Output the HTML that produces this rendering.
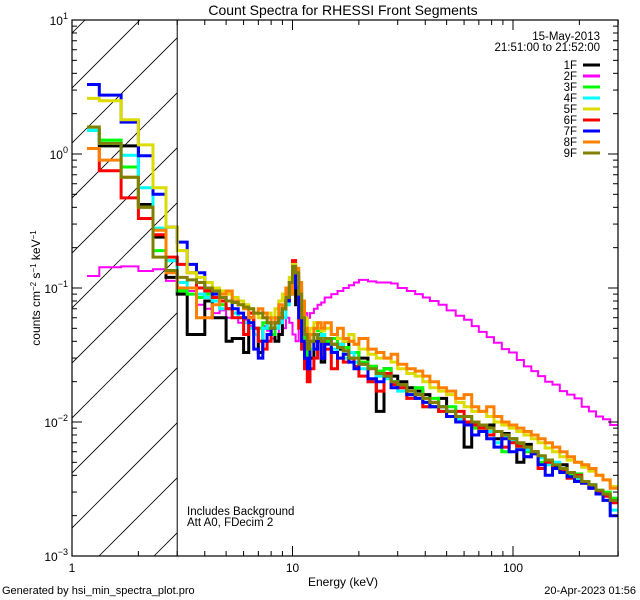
<!DOCTYPE html>
<html><head><meta charset="utf-8"><style>
html,body{margin:0;padding:0;background:#fff;}
svg{display:block;font-family:"Liberation Sans",sans-serif;}
</style></head><body>
<svg id="chart" width="640" height="600" viewBox="0 0 640 600" xmlns="http://www.w3.org/2000/svg">
<rect width="640" height="600" fill="#fff"/>
<defs><clipPath id="plotclip"><rect x="72" y="20" width="546" height="536"/></clipPath>
<clipPath id="hatchclip"><rect x="72" y="20" width="105" height="536"/></clipPath></defs>
<text x="343" y="15" font-size="14" text-anchor="middle">Count Spectra for RHESSI Front Segments</text>
<g id="hatch" clip-path="url(#hatchclip)"></g>
<g id="series" clip-path="url(#plotclip)"></g>
<g id="axes"></g>
<text x="600" y="40" font-size="11.5" text-anchor="end">15-May-2013</text>
<text x="600" y="51" font-size="11.5" text-anchor="end">21:51:00 to 21:52:00</text>
<g id="legend"></g>
<text x="187" y="515" font-size="11.5">Includes Background</text>
<text x="187" y="526" font-size="11.5">Att A0, FDecim 2</text>
<text x="343" y="586" font-size="12" text-anchor="middle">Energy (keV)</text>
<text transform="translate(40,288) rotate(-90)" font-size="12" text-anchor="middle">counts cm<tspan baseline-shift="super" font-size="8">−2</tspan> s<tspan baseline-shift="super" font-size="8">−1</tspan> keV<tspan baseline-shift="super" font-size="8">−1</tspan></text>
<text x="2" y="594" font-size="11">Generated by hsi_min_spectra_plot.pro</text>
<text x="636" y="594" font-size="11" text-anchor="end">20-Apr-2023 01:56</text>
</svg>
<script>
const edges=[1.17,1.33,1.67,2,2.33,2.67,3,3.33,3.67,4,4.33,4.67,5,5.33,5.67,6,6.33,6.67,7,7.33,7.67,8,8.33,8.67,9,9.33,9.67,10,10.33,10.67,11,11.33,11.67,12,12.5,13,13.5,14,15,16,17,18,19,20,22,24,26,28,30,33,36,39,42,46,50,55,60,65,70,76,82,89,96,104,112,121,130,140,151,163,176,190,205,221,238,256,276,300];
const seriesNames=["1F","2F","3F","4F","5F","6F","7F","8F","9F"];
const seriesColors=["#000000","#ff00ff","#00ff00","#00ffff","#dcdc00","#ff0000","#0000ff","#ff8000","#808000"];
const s1F=[1.5,1.15,1.15,0.42,0.24,0.12, 0.09,0.045,0.045,0.08,0.06,0.06,0.04,0.042,0.042,0.033,0.06,0.05,0.033,0.05,0.055,0.055,0.04,0.045,0.07,0.08,0.09,0.12,0.075,0.1,0.045,0.03,0.025, 0.03,0.04,0.045,0.028,0.04,0.038,0.035,0.04,0.03,0.033,0.03,0.026,0.012,0.025,0.022,0.02,0.018,0.017,0.016,0.013,0.015,0.012,0.011,0.0065,0.01,0.009,0.0095,0.0075,0.0082,0.0075,0.005,0.0068,0.006,0.0055,0.0052,0.0046,0.0048,0.0042,0.0038,0.0035,0.0033,0.003,0.0028,0.0026];
const s2F=[0.123,0.143,0.145,0.134,0.138,0.113, 0.1,0.095,0.075,0.07,0.065,0.068,0.06,0.06,0.055,0.058,0.052,0.05,0.05,0.052,0.048,0.042,0.05,0.045,0.05,0.06,0.055,0.045,0.04,0.05,0.06,0.065,0.06, 0.065,0.07,0.075,0.078,0.085,0.09,0.095,0.1,0.105,0.11,0.115,0.112,0.11,0.11,0.108,0.1,0.095,0.09,0.085,0.08,0.075,0.068,0.062,0.058,0.052,0.047,0.043,0.039,0.035,0.033,0.029,0.026,0.024,0.022,0.02,0.019,0.017,0.016,0.015,0.013,0.012,0.011,0.0105,0.0095];
const s3F=[1.5,1.27,0.8,0.4,0.19,0.16, 0.095,0.09,0.085,0.09,0.08,0.075,0.07,0.065,0.06,0.06,0.055,0.045,0.05,0.055,0.05,0.045,0.06,0.065,0.07,0.085,0.1,0.14,0.11,0.08,0.05,0.035,0.03, 0.04,0.05,0.048,0.045,0.04,0.042,0.038,0.036,0.03,0.033,0.028,0.026,0.024,0.025,0.02,0.019,0.016,0.018,0.013,0.015,0.012,0.013,0.011,0.011,0.009,0.0095,0.008,0.0085,0.006,0.0075,0.0068,0.006,0.0058,0.005,0.0052,0.0048,0.0045,0.004,0.0041,0.0036,0.0034,0.0031,0.003,0.0027];
const s4F=[1.5,1.2,0.98,0.56,0.28,0.16, 0.11,0.1,0.09,0.085,0.08,0.07,0.07,0.065,0.06,0.055,0.05,0.045,0.04,0.05,0.055,0.06,0.05,0.055,0.06,0.075,0.09,0.13,0.12,0.06,0.04,0.03,0.028, 0.035,0.045,0.04,0.045,0.042,0.035,0.038,0.03,0.033,0.028,0.025,0.02,0.022,0.021,0.02,0.017,0.016,0.015,0.014,0.013,0.013,0.011,0.0105,0.01,0.0095,0.009,0.0085,0.007,0.0078,0.0072,0.0065,0.0062,0.0058,0.0054,0.0048,0.005,0.0044,0.0042,0.0038,0.0036,0.0034,0.003,0.0026,0.0022];
const s5F=[2.6,2.5,1.8,1.17,0.56,0.285, 0.19,0.13,0.12,0.11,0.1,0.095,0.09,0.085,0.08,0.075,0.07,0.065,0.06,0.06,0.065,0.06,0.07,0.08,0.09,0.1,0.12,0.15,0.14,0.11,0.08,0.06,0.045, 0.05,0.055,0.05,0.048,0.05,0.045,0.042,0.04,0.045,0.038,0.035,0.032,0.03,0.03,0.028,0.025,0.023,0.022,0.02,0.018,0.017,0.016,0.014,0.013,0.012,0.012,0.011,0.01,0.0095,0.009,0.0085,0.008,0.0075,0.007,0.0064,0.006,0.0055,0.0052,0.005,0.0046,0.0043,0.004,0.0037,0.0033];
const s6F=[1.1,0.75,0.47,0.33,0.25,0.17, 0.15,0.13,0.1,0.095,0.085,0.08,0.07,0.06,0.06,0.045,0.065,0.05,0.04,0.035,0.04,0.05,0.055,0.06,0.07,0.08,0.11,0.16,0.12,0.05,0.035,0.025,0.02, 0.025,0.03,0.04,0.03,0.035,0.025,0.03,0.028,0.03,0.026,0.022,0.02,0.017,0.023,0.019,0.018,0.015,0.016,0.013,0.014,0.012,0.011,0.012,0.01,0.0095,0.009,0.008,0.0085,0.0065,0.007,0.0066,0.0055,0.0058,0.0045,0.005,0.0045,0.0043,0.0038,0.004,0.0035,0.0032,0.003,0.0028,0.0025];
const s7F=[3.3,2.75,1.73,0.97,0.5,0.285, 0.22,0.15,0.13,0.1,0.09,0.085,0.08,0.07,0.065,0.06,0.055,0.035,0.03,0.04,0.045,0.05,0.055,0.06,0.07,0.08,0.1,0.13,0.1,0.06,0.04,0.03,0.025, 0.04,0.035,0.04,0.03,0.038,0.033,0.03,0.032,0.028,0.025,0.027,0.021,0.02,0.022,0.018,0.019,0.016,0.015,0.014,0.013,0.013,0.011,0.01,0.0095,0.008,0.0085,0.0075,0.0065,0.0075,0.006,0.0062,0.0055,0.0058,0.0048,0.004,0.0045,0.0042,0.0039,0.0036,0.0035,0.0032,0.0029,0.0026,0.002];
const s8F=[1.1,0.9,0.67,0.4,0.27,0.13, 0.1,0.1,0.06,0.06,0.075,0.09,0.095,0.08,0.075,0.07,0.06,0.065,0.07,0.065,0.06,0.055,0.06,0.075,0.07,0.1,0.09,0.13,0.14,0.11,0.08,0.05,0.04, 0.045,0.05,0.055,0.05,0.055,0.045,0.05,0.042,0.04,0.038,0.042,0.035,0.033,0.03,0.032,0.027,0.025,0.024,0.022,0.02,0.018,0.017,0.015,0.016,0.013,0.012,0.013,0.011,0.01,0.0095,0.009,0.0085,0.008,0.0075,0.007,0.0065,0.006,0.0055,0.005,0.0048,0.0045,0.004,0.0037,0.0032];
const s9F=[1.59,1.2,0.67,0.4,0.17,0.135, 0.12,0.115,0.11,0.1,0.095,0.085,0.08,0.078,0.075,0.072,0.07,0.065,0.065,0.06,0.055,0.05,0.055,0.06,0.07,0.085,0.11,0.145,0.13,0.09,0.06,0.045,0.035, 0.04,0.045,0.042,0.04,0.042,0.038,0.036,0.034,0.03,0.03,0.027,0.025,0.023,0.022,0.02,0.019,0.017,0.016,0.015,0.014,0.013,0.012,0.011,0.011,0.01,0.0095,0.009,0.0085,0.008,0.0075,0.007,0.0065,0.006,0.0056,0.0052,0.0048,0.0045,0.0042,0.0039,0.0036,0.0034,0.0031,0.0029,0.0026];
const seriesValues=[s1F,s2F,s3F,s4F,s5F,s6F,s7F,s8F,s9F];
const xTickLabels=["1","10","100"];
const yTickExps=["1","0","−1","−2","−3"];

const NS="http://www.w3.org/2000/svg";
const L=72,R=618,T=20,B=556;
const xD=220.5, yD=134;
function xs(e){return L+Math.log10(e)*xD;}
function ys(v){return B-(Math.log10(v)+3)*yD;}
function mk(tag,attrs,parent){const el=document.createElementNS(NS,tag);for(const k in attrs)el.setAttribute(k,attrs[k]);parent.appendChild(el);return el;}

// hatch
const hatch=document.getElementById('hatch');
for(let x0=99-55*12;x0<200;x0+=55){
  const ln=mk('line',{x1:x0,y1:B,x2:x0+560,y2:B-560,stroke:'#000','stroke-width':0.8},hatch);
  
  
}
const axes=document.getElementById('axes');
const vline=mk('line',{x1:xs(3),y1:T,x2:xs(3),y2:B,stroke:'#000','stroke-width':1},axes);



// series
const sg=document.getElementById('series');
const drawOrder=[1,0,2,3,5,6,4,7,8];
drawOrder.forEach(si=>{
  const vals=seriesValues[si];
  const n=Math.min(vals.length,edges.length-1);
  let d='';
  for(let i=0;i<n;i++){
    const y=ys(vals[i]).toFixed(1);
    d+=(i===0?'M':'L')+xs(edges[i]).toFixed(1)+','+y+'L'+xs(edges[i+1]).toFixed(1)+','+y;
  }
  const p=mk('path',{d:d,fill:'none',stroke:seriesColors[si],'stroke-width':si===1?2:3,'stroke-linejoin':'miter'},sg);
  
  
});

// frame
const fr=mk('rect',{x:L,y:T,width:R-L,height:B-T,fill:'none',stroke:'#000','stroke-width':1.2},axes);


// x ticks
for(let dec=0;dec<3;dec++){
  for(let m=1;m<10;m++){
    const e=m*Math.pow(10,dec); if(e>300)break;
    const x=xs(e), len=m===1?10:5;
    mk('line',{x1:x,y1:B,x2:x,y2:B-len,stroke:'#000'},axes);
    mk('line',{x1:x,y1:T,x2:x,y2:T+len,stroke:'#000'},axes);
  }
  const t=mk('text',{x:xs(Math.pow(10,dec)),y:B+16,'font-size':12,'text-anchor':'middle'},axes);
  t.textContent=xTickLabels[dec];
  
  
}
// y ticks
for(let k=0;k<yTickExps.length;k++){
  const ex=1-k;
  const y=ys(Math.pow(10,ex));
  mk('line',{x1:L,y1:y,x2:L+10,y2:y,stroke:'#000'},axes);
  mk('line',{x1:R,y1:y,x2:R-10,y2:y,stroke:'#000'},axes);
  if(ex>-3){for(let m=2;m<10;m++){const yy=ys(m*Math.pow(10,ex-1));
    mk('line',{x1:L,y1:yy,x2:L+5,y2:yy,stroke:'#000'},axes);
    mk('line',{x1:R,y1:yy,x2:R-5,y2:yy,stroke:'#000'},axes);}}
  const t=mk('text',{x:L-4,y:y+5,'font-size':12,'text-anchor':'end'},axes);
  t.innerHTML='10<tspan font-size="9" dy="-6">'+yTickExps[k]+'</tspan>';
  
  
}
// legend
const lg=document.getElementById('legend');
seriesNames.forEach((nm,i)=>{
  const y=65+i*11;
  const t=mk('text',{x:577,y:y+4,'font-size':11.5,'text-anchor':'end'},lg);
  t.textContent=nm;
  
  
  const l=mk('line',{x1:583,y1:y,x2:600,y2:y,stroke:seriesColors[i],'stroke-width':3},lg);
  
  
});
</script>
</body></html>
